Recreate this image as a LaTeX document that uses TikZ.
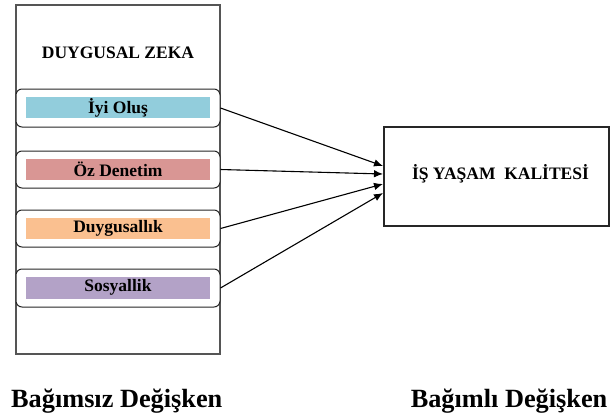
\documentclass[tikz,border=0pt]{standalone}
\usepackage{fontspec}
\setmainfont{Liberation Serif}
\usetikzlibrary{arrows.meta}
\definecolor{barblue}{RGB}{146,205,220}
\definecolor{barred}{RGB}{217,150,148}
\definecolor{barorange}{RGB}{250,192,144}
\definecolor{barpurple}{RGB}{179,162,199}
\definecolor{framegray}{RGB}{85,85,85}
\tikzset{
  lbl/.style={font=\bfseries\fontsize{17.5}{20}\selectfont, text=black},
  bottomlbl/.style={font=\bfseries\fontsize{26.3}{28}\selectfont, inner sep=0pt},
  dimbox/.style={draw=black!85, line width=1pt, rounded corners=6pt, fill=white,
    minimum width=204pt, minimum height=38pt, inner sep=0pt},
  bar/.style={minimum width=184pt, minimum height=21pt, inner sep=0pt, lbl},
  conn/.style={draw=black, line width=1.1pt, -{Latex[length=9pt,width=7.5pt]}},
}
\begin{document}
\begin{tikzpicture}[x=1pt,y=-1pt]
\useasboundingbox (0,0) rectangle (610,418);
% outer frame
\node[draw=framegray, line width=1.2pt, minimum width=204pt, minimum height=349pt, inner sep=0pt] (outer) at (118,179.5) {};
\node[lbl] (title) at (118,53) {DUYGUSAL ZEKA};
% dimension boxes
\node[dimbox] (b1) at (118,108) {};
\node[dimbox, minimum height=37pt] (b2) at (118,169.5) {};
\node[dimbox, minimum height=37pt] (b3) at (118,228.5) {};
\node[dimbox] (b4) at (118,288) {};
\node[bar, fill=barblue] (t1) at (118,107.5) {İyi Oluş};
\node[bar, fill=barred] (t2) at (118,169.5) {Öz Denetim};
\node[bar, fill=barorange] (t3) at (118,228.5) {Duygusallık};
\node[bar, fill=barpurple, minimum height=22pt] (t4) at (118,287.5) {Sosyallik};
% right box
\node[draw=black!85, line width=1.2pt, minimum width=225pt, minimum height=99pt, inner sep=0pt] (rb) at (496.5,176.5) {};
\node[lbl] (rt) at (500.5,174) {İŞ YAŞAM\ \ KALİTESİ};
% arrow ends
\coordinate (e1) at (383,166);
\coordinate (e2) at (383,174);
\coordinate (e3) at (383,184);
\coordinate (e4) at (383,193);
\draw[conn] (b1.east) -- (e1);
\draw[conn] (b2.east) -- (e2);
\draw[conn] (b3.east) -- (e3);
\draw[conn] (b4.east) -- (e4);
% bottom labels
\node[bottomlbl, anchor=base west] (indep) at (11,407) {Bağımsız Değişken};
\node[bottomlbl, anchor=base east] (dep) at (607.5,407) {Bağımlı Değişken};
\end{tikzpicture}
\end{document}
